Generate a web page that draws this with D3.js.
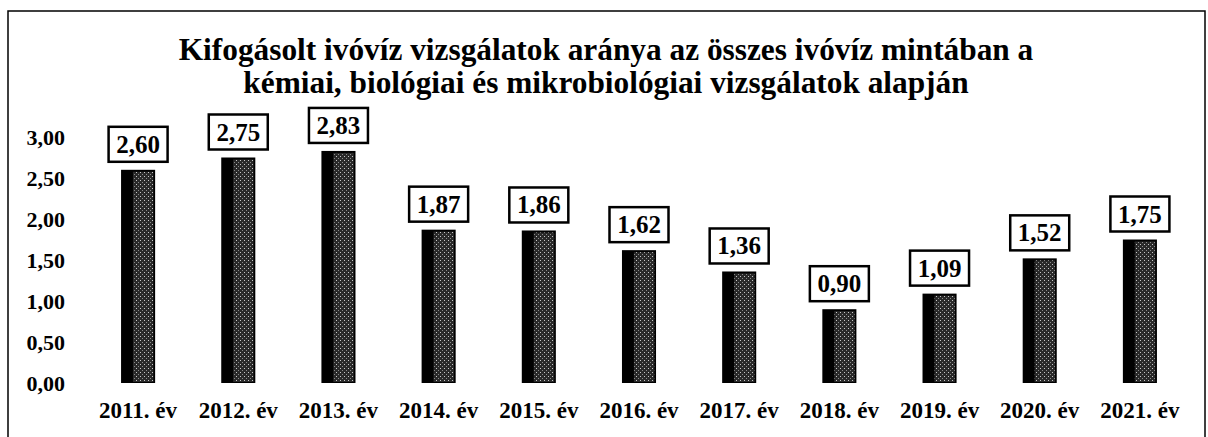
<!DOCTYPE html>
<html>
<head>
<meta charset="utf-8">
<script src="https://cdn.jsdelivr.net/npm/d3@7"></script>
</head>
<body style="margin:0; background:#fff">
<svg id="chart"></svg>
<script>
// data
const years = ["2011. év", "2012. év", "2013. év", "2014. év", "2015. év", "2016. év",
  "2017. év", "2018. év", "2019. év", "2020. év", "2021. év"];
const values = [2.60, 2.75, 2.83, 1.87, 1.86, 1.62, 1.36, 0.90, 1.09, 1.52, 1.75];
const yTicks = [0, 0.5, 1, 1.5, 2, 2.5, 3];
const titleLines = [
  "Kifogásolt ivóvíz vizsgálatok aránya az összes ivóvíz mintában a",
  "kémiai, biológiai és mikrobiológiai vizsgálatok alapján"
];

const FONT = '"Liberation Serif"';
const width = 1208, height = 437;
const svg = d3.select("#chart").attr("width", width).attr("height", height);

const serif = (sel, size) =>
  sel.style("font-family", FONT)
    .style("font-weight", "bold")
    .style("font-size", size + "px")
    .attr("fill", "#000");

// stippled bar texture
const defs = svg.append("defs");
const pat = defs.append("pattern")
  .attr("id", "stipple")
  .attr("patternUnits", "userSpaceOnUse")
  .attr("width", 4).attr("height", 4);
pat.append("rect").attr("width", 4).attr("height", 4).attr("fill", "#2a2a2a");
pat.append("rect").attr("x", 0).attr("y", 0).attr("width", 1).attr("height", 1).attr("fill", "#c8c8c8");
pat.append("rect").attr("x", 2).attr("y", 2).attr("width", 1).attr("height", 1).attr("fill", "#8a8a8a");

// outer frame
svg.append("rect")
  .attr("x", 8).attr("y", 11)
  .attr("width", 1197).attr("height", 440)
  .attr("fill", "none")
  .attr("stroke", "#000")
  .attr("stroke-width", 1.5);

// title
const title = svg.selectAll(".title")
  .data(titleLines)
  .enter()
  .append("text")
  .attr("class", "title")
  .attr("x", 606)
  .attr("y", (d, i) => 60 + i * 33)
  .attr("text-anchor", "middle")
  .text((d) => d);
serif(title, 27);
// fit the first line to the width it has in the original
const w0 = title.node().getComputedTextLength();
title.style("font-size", (27 * 855 / w0).toFixed(2) + "px");

const margin = { left: 88, right: 18, baseline: 383 };
const xScale = d3.scaleBand()
  .domain(years)
  .range([margin.left, width - margin.right])
  .paddingInner(0.66)
  .paddingOuter(0.33);
const yScale = d3.scaleLinear().domain([0, 3]).range([margin.baseline, margin.baseline - 246]);

const fmt = (v) => d3.format(".2f")(v).replace(".", ",");

// y axis
const yAxis = d3.axisLeft(yScale).tickValues(yTicks).tickFormat(fmt).tickSize(0).tickPadding(0);
const yAxisG = svg.append("g").attr("transform", "translate(65,0)").call(yAxis);
yAxisG.attr("font-family", null).attr("font-size", null);
yAxisG.select(".domain").remove();
serif(yAxisG.selectAll("text"), 22);

// x axis
const xAxis = d3.axisBottom(xScale).tickSize(0).tickPadding(0);
const xAxisG = svg.append("g").attr("transform", "translate(0,402)").call(xAxis);
xAxisG.attr("font-family", null).attr("font-size", null);
xAxisG.select(".domain").remove();
serif(xAxisG.selectAll("text"), 23);

// bars
const bars = svg.selectAll(".bar")
  .data(values)
  .enter()
  .append("g")
  .attr("class", "bar");

bars.append("rect")
  .attr("x", (d, i) => xScale(years[i]))
  .attr("y", (d) => yScale(d))
  .attr("width", xScale.bandwidth())
  .attr("height", (d) => yScale(0) - yScale(d))
  .attr("fill", "#000");

bars.append("rect")
  .attr("x", (d, i) => xScale(years[i]) + xScale.bandwidth() * 0.35)
  .attr("y", (d) => yScale(d) + 2)
  .attr("width", xScale.bandwidth() * 0.6)
  .attr("height", (d) => yScale(0) - yScale(d) - 3)
  .attr("fill", "url(#stipple)");

// value labels
const boxW = 59, boxH = 35;
const labels = svg.selectAll(".vlabel")
  .data(values)
  .enter()
  .append("g")
  .attr("class", "vlabel")
  .attr("transform", (d, i) =>
    `translate(${xScale(years[i]) + xScale.bandwidth() / 2},${yScale(d) - 8 - boxH})`);

labels.append("rect")
  .attr("x", -boxW / 2)
  .attr("y", 0)
  .attr("width", boxW)
  .attr("height", boxH)
  .attr("fill", "#fff")
  .attr("stroke", "#000")
  .attr("stroke-width", 2.5);

serif(labels.append("text")
  .attr("x", 0)
  .attr("y", 26)
  .attr("text-anchor", "middle")
  .text((d) => fmt(d)), 25);
</script>
</body>
</html>
